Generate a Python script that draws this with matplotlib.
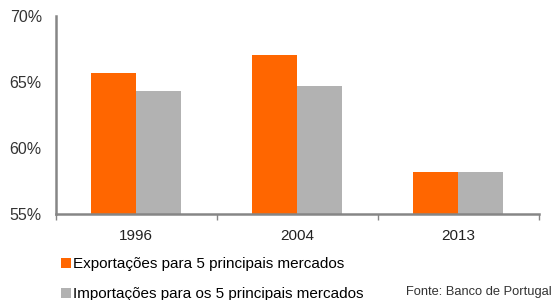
import matplotlib
matplotlib.use("Agg")
import matplotlib.pyplot as plt
import numpy as np

plt.rcParams['font.family'] = ['Liberation Sans', 'DejaVu Sans']

anos = ['1996', '2004', '2013']
exportacoes = [65.7, 67.05, 58.2]
importacoes = [64.3, 64.7, 58.15]
yticks = [55, 60, 65, 70]

laranja = '#ff6600'
cinza = '#b2b2b2'
eixo = '#868686'

fig = plt.figure(figsize=(5.52, 3.0), dpi=100)
ax = fig.add_axes([0.101, 0.287, 0.875, 0.66])

x = np.arange(len(anos))
w = 0.28
ax.bar(x - w/2, exportacoes, w, color=laranja, label='Exportações para 5 principais mercados')
ax.bar(x + w/2, importacoes, w, color=cinza, label='Importações para os 5 principais mercados')

ax.set_xlim(-0.5, 2.5)
ax.set_ylim(55, 70)
ax.set_yticks(yticks)
ax.set_yticklabels([f'{v}%' for v in yticks], fontsize=11.5, color='#333333')
ax.tick_params(axis='y', length=0, pad=10)
ax.set_xticks(x)
ax.set_xticklabels(anos, fontsize=11, color='#222222')
ax.tick_params(axis='x', length=0, pad=11)
ax.set_xticks([-0.5, 0.5, 1.5, 2.5], minor=True)
ax.tick_params(axis='x', which='minor', length=4, color=eixo, width=1)

for s in ['top', 'right']:
    ax.spines[s].set_visible(False)
for s in ['left', 'bottom']:
    ax.spines[s].set_color(eixo)
    ax.spines[s].set_linewidth(1.8)

fig.legend(loc='lower left', bbox_to_anchor=(0.096, -0.032), frameon=False,
           fontsize=11, handlelength=0.6, handleheight=0.6, handletextpad=0.15,
           labelspacing=1.05, borderaxespad=0.15)
fig.text(0.735, 0.025, 'Fonte: Banco de Portugal', fontsize=9.3, color='#333333', va='center')

fig.savefig('out.png', dpi=100)
